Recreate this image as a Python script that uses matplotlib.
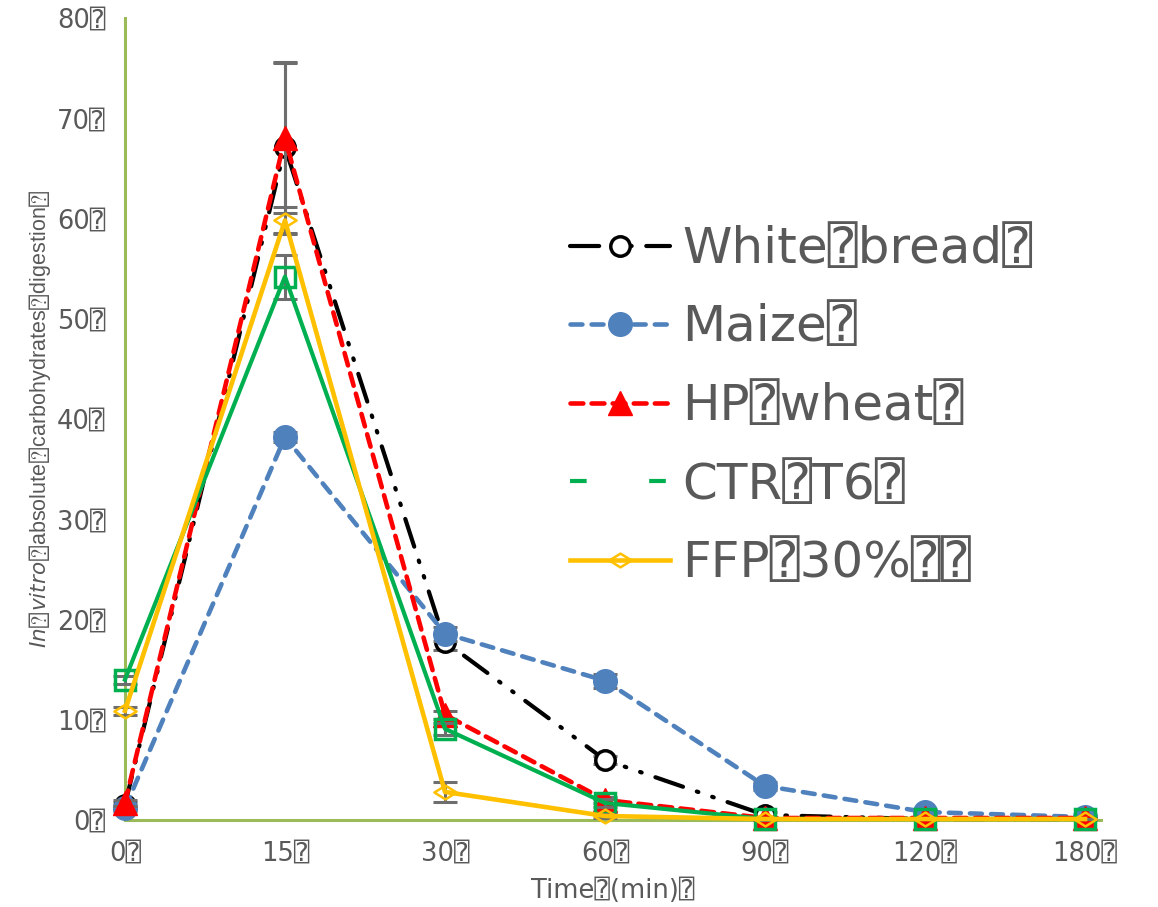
import matplotlib

matplotlib.use("Agg")
import matplotlib.pyplot as plt  # noqa: E402
from matplotlib.lines import Line2D  # noqa: E402
from matplotlib.path import Path  # noqa: E402

BOX = "\u2370"  # placeholder glyph shown after each label
MBOX = r"$\mathsf{" + BOX + "}$"  # same glyph inside a mathtext string

# Sampling times (categorical axis)
times = ["0", "15", "30", "60", "90", "120", "180"]

# Absolute carbohydrate digestion per sample
white_bread = [1.5, 67.1, 17.8, 6.0, 0.5, 0.1, 0.1]
maize = [1.2, 38.2, 18.6, 13.9, 3.4, 0.8, 0.3]
hp_wheat = [1.7, 68.0, 10.5, 2.0, 0.2, 0.2, 0.2]
ctr_t6 = [14.0, 54.2, 9.1, 1.7, 0.1, 0.1, 0.1]
ffp_30 = [10.9, 59.8, 2.8, 0.4, 0.1, 0.1, 0.1]

# Standard deviations
white_bread_sd = [0.3, 8.5, 0.8, 0.4, 0.3, 0.0, 0.0]
maize_sd = [0.3, 0.5, 0.7, 0.7, 0.4, 0.2, 0.1]
hp_wheat_sd = [0.3, 7.5, 0.4, 0.3, 0.1, 0.0, 0.0]
ctr_t6_sd = [0.4, 2.2, 0.6, 0.4, 0.1, 0.0, 0.0]
ffp_30_sd = [0.4, 1.3, 1.0, 0.2, 0.1, 0.0, 0.0]

labels = ["White" + BOX + "bread" + BOX, "Maize" + BOX, "HP" + BOX + "wheat" + BOX,
          "CTR" + BOX + "T6" + BOX, "FFP" + BOX + "30%" + BOX + BOX]

TXT = "#595959"
AXIS = "#9BBB59"
ERR = "#6E6E6E"
FONTS = ["DejaVu Sans", "DejaVu Sans Mono", "Noto Sans CJK SC"]

plt.rcParams["font.family"] = FONTS
plt.rcParams["mathtext.fontset"] = "custom"
plt.rcParams["mathtext.it"] = "Liberation Sans Narrow:italic"
plt.rcParams["mathtext.rm"] = "Liberation Sans Narrow"
plt.rcParams["mathtext.sf"] = "DejaVu Sans"

# flattened diamond for the FFP series
flat_diamond = Path([(-1, 0), (0, 0.62), (1, 0), (0, -0.62), (-1, 0)],
                    [Path.MOVETO, Path.LINETO, Path.LINETO, Path.LINETO, Path.CLOSEPOLY])

fig = plt.figure(figsize=(11.58, 9.07), dpi=100)
ax = fig.add_axes([0.1079, 0.0959, 0.8429, 0.8843])

x = list(range(len(times)))

series = [
    (white_bread, white_bread_sd, dict(color="black", lw=3, dashes=(7, 3.5, 0.4, 3.5, 0.4, 3.5),
                                       dash_capstyle="round", marker="o", ms=14,
                                       mfc="white", mec="black", mew=2.5)),
    (maize, maize_sd, dict(color="#4F81BD", lw=3.3, dashes=(2.6, 2.0), dash_capstyle="round",
                           marker="o", ms=17, mfc="#4F81BD", mec="#4F81BD")),
    (hp_wheat, hp_wheat_sd, dict(color="#FF0000", lw=3.3, dashes=(2.8, 1.8), dash_capstyle="round",
                                 marker="^", ms=17, mfc="#FF0000", mec="#FF0000")),
    (ctr_t6, ctr_t6_sd, dict(color="#00B050", lw=3, marker="s", ms=15,
                             mfc="none", mec="#00B050", mew=2.5)),
    (ffp_30, ffp_30_sd, dict(color="#FFC000", lw=3.3, marker=flat_diamond, ms=16,
                             mfc="none", mec="#FFC000", mew=1.8)),
]

handles = []
for i, (vals, sd, style) in enumerate(series):
    ax.errorbar(x, vals, yerr=sd, fmt="none", ecolor=ERR, elinewidth=2.2,
                capsize=8.3, capthick=2.2, zorder=2 + i, clip_on=False)
    (ln,) = ax.plot(x, vals, zorder=3 + i, clip_on=False, **style)
    handles.append(ln)

# CTR legend key only shows the two end segments of the line
handles[3] = Line2D([], [], color="#00B050", lw=3, dashes=(4, 15))

ax.set_xlim(0, 6.1)
ax.set_ylim(0, 80)
ax.set_xticks(x)
ax.set_xticklabels([t + BOX for t in times])
ax.set_yticks(range(0, 81, 10))
ax.set_yticklabels([str(v) + BOX for v in range(0, 81, 10)])
ax.tick_params(length=0, labelsize=18.5, labelcolor=TXT)
ax.tick_params(axis="x", pad=15)
ax.tick_params(axis="y", pad=14)

for side in ("top", "right"):
    ax.spines[side].set_visible(False)
for side in ("left", "bottom"):
    ax.spines[side].set_color(AXIS)
    ax.spines[side].set_linewidth(2.2)

ax.set_xlabel("Time" + BOX + "(min)" + BOX, fontsize=18.5, color=TXT, labelpad=8)
ax.set_ylabel(r"$\mathit{In}$" + MBOX + r"$\mathit{vitro}$" + MBOX + "absolute" + MBOX
              + "carbohydrates" + MBOX + "digestion" + MBOX,
              fontsize=15.5, color=TXT, labelpad=3,
              family=["Liberation Sans Narrow", "Liberation Sans", "DejaVu Sans"])

leg = ax.legend(handles, labels, loc="upper left", bbox_to_anchor=(570 / 1158, 1 - 225 / 907),
                bbox_transform=fig.transFigure, frameon=False, fontsize=36,
                labelcolor=TXT, handlelength=2.0, handletextpad=0.25, labelspacing=0.61,
                borderpad=0, borderaxespad=0)

fig.savefig("out.png", dpi=100)
